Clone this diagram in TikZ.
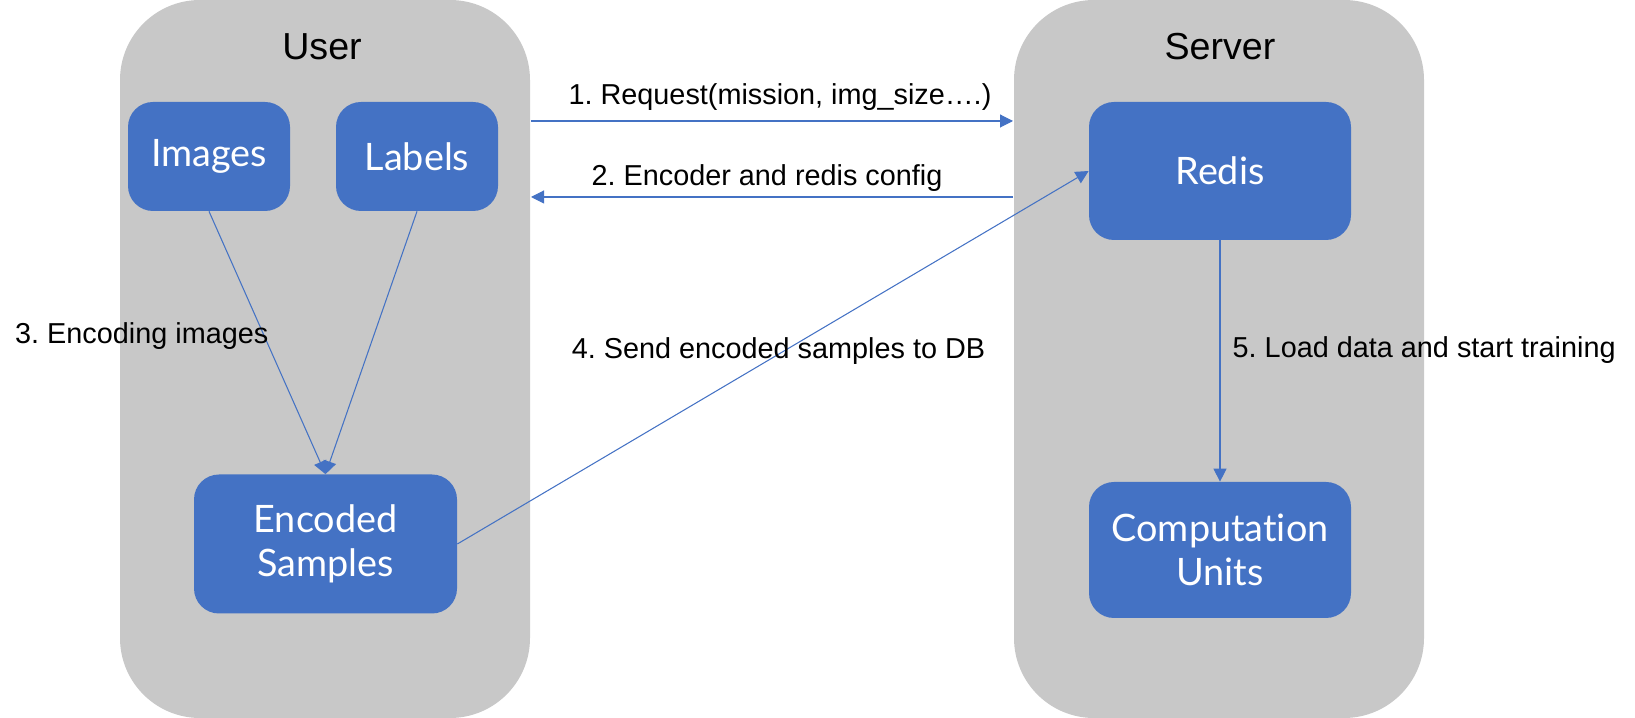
\documentclass[tikz,border=0pt]{standalone}
\usepackage{fontspec}
\setmainfont{Liberation Sans}
\newfontfamily\boxfont[Ligatures=NoCommon]{Lato}
\usetikzlibrary{arrows.meta}
\definecolor{boxblue}{RGB}{68,114,196}
\definecolor{panelgray}{RGB}{200,200,200}
\frenchspacing

\begin{document}
\begin{tikzpicture}[x=1cm,y=1cm,
  panel/.style={fill=panelgray,rounded corners=1.6cm,minimum width=8.2cm,minimum height=14.36cm,inner sep=0pt},
  title/.style={font=\fontsize{21.4pt}{25pt}\selectfont},
  blk/.style={fill=boxblue,text=white,rounded corners=0.5cm,inner sep=0pt,align=center,
    minimum width=5.24cm,minimum height=2.76cm,font=\boxfont\fontsize{21.5pt}{25pt}\selectfont},
  msg/.style={font=\fontsize{16.4pt}{19.5pt}\selectfont},
  flow/.style={boxblue,line width=0.6pt,-{Triangle[length=0.26cm,width=0.26cm]}}]
  \useasboundingbox (0,0) rectangle (32.7,-14.36);
  % the two sides
  \node[panel] (userpanel) at (6.5,-7.18) {};
  \node[panel] (serverpanel) at (24.38,-7.18) {};
  \node[title] (usertitle) at (6.44,-0.94) {User};
  \node[title] (servertitle) at (24.4,-0.94) {Server};
  % blocks
  \node[blk,minimum width=3.24cm,minimum height=2.18cm] (images) at (4.18,-3.13) {Images};
  \node[blk,minimum width=3.24cm,minimum height=2.18cm] (labels) at (8.34,-3.13) {Labels};
  \node[blk,minimum width=5.26cm,minimum height=2.78cm] (encoded) at (6.51,-10.88) {Encoded\\Samples};
  \node[blk] (redis) at (24.4,-3.42) {Redis};
  \node[blk,minimum height=2.72cm] (compunits) at (24.4,-11.0) {Computation\\Units};
  % messages between user and server
  \coordinate (reqfrom) at (10.62,-2.42);
  \coordinate (reqto) at (20.26,-2.42);
  \coordinate (cfgfrom) at (20.26,-3.94);
  \coordinate (cfgto) at (10.62,-3.94);
  \draw[flow] (reqfrom) -- (reqto);
  \draw[flow] (cfgfrom) -- (cfgto);
  \draw[flow] (images.south) -- (encoded.north);
  \draw[flow] (labels.south) -- (encoded.north);
  \draw[flow] (encoded.east) -- (redis.west);
  \draw[flow] (redis.south) -- (compunits.north);
  % step labels
  \node[msg] (step1) at (15.6,-1.94) {1. Request(mission, img\_size….)};
  \node[msg] (step2) at (15.34,-3.56) {2. Encoder and redis config};
  \node[msg,anchor=west] (step3) at (0.18,-6.72) {3. Encoding images};
  \node[msg] (step4) at (15.57,-7.02) {4. Send encoded samples to DB};
  \node[msg,anchor=west] (step5) at (24.53,-7.0) {5. Load data and start training};
\end{tikzpicture}
\end{document}
